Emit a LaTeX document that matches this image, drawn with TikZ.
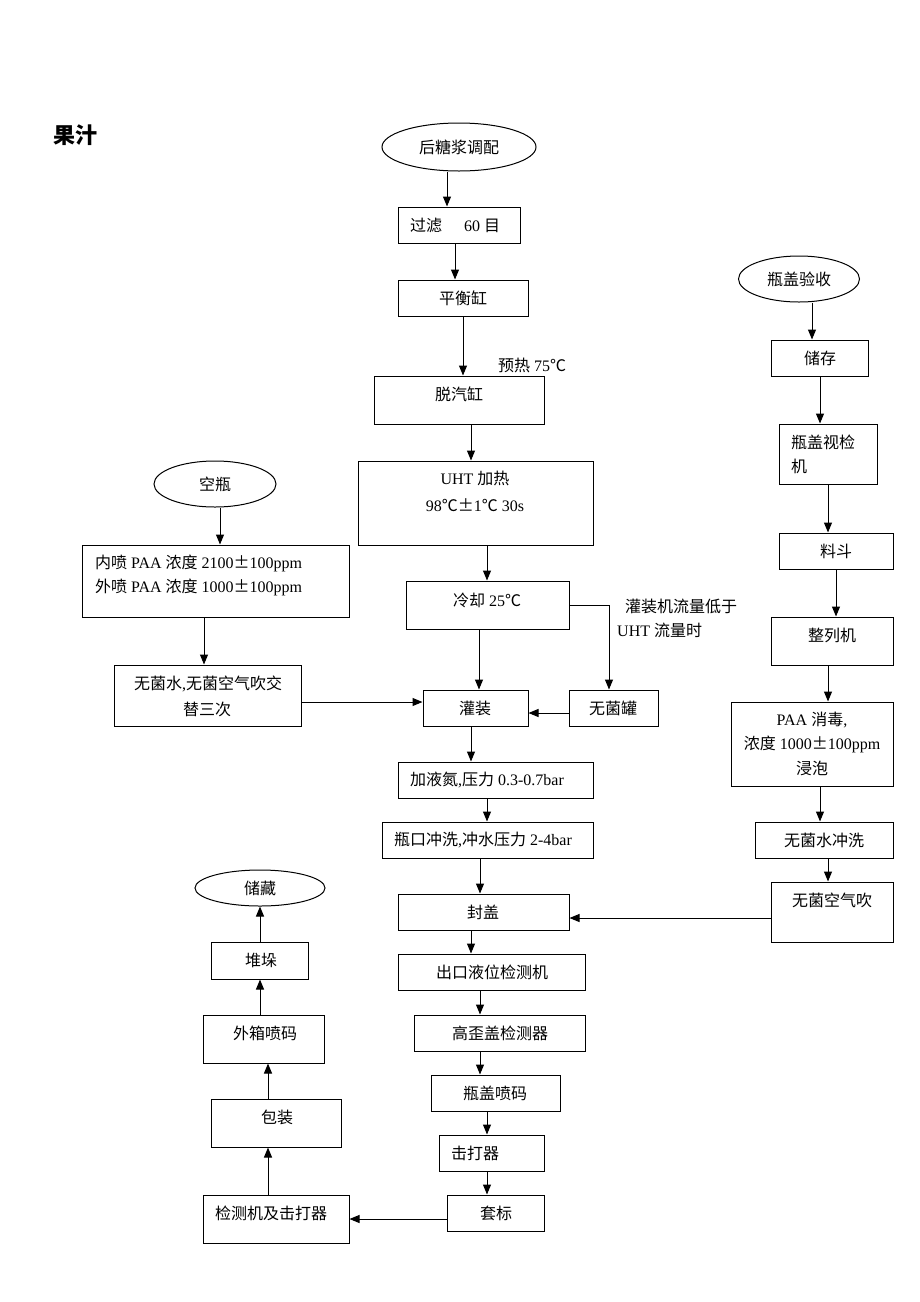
\documentclass[tikz,border=0pt]{standalone}
\usepackage{fontspec}
\setmainfont{Liberation Serif}
\newfontfamily\zh{Noto Sans CJK SC}
\usetikzlibrary{arrows.meta,shapes.geometric,fit}
\newcommand\zz[1]{{\zh #1}}
\tikzset{
  bx/.style={draw, inner sep=0pt, line width=1pt},
  ell/.style={draw, ellipse, inner sep=0pt, line width=1pt, font=\fontsize{16}{24}\selectfont\zh},
  txt/.style={inner sep=0pt, font=\fontsize{16}{24}\selectfont},
  arr/.style={line width=1pt, -{Triangle[length=10pt,width=8pt]}}
}
\begin{document}
\begin{tikzpicture}[x=1pt,y=-1pt]
\useasboundingbox (0,0) rectangle (920,1302);
% title
\node[inner sep=0pt, font=\fontsize{22}{26}\selectfont\zh\bfseries] (title) at (75,135) {果汁};

% main column
\node[ell, minimum width=154pt, minimum height=48pt] (tiaopei) at (459,147) {后糖浆调配};
\node[bx, fit={(398,207)(520,243)}] (guolv) {};
\node[txt, anchor=west] (tguolv) at (410,225) {\zz{过滤}\hspace{22pt}60\ \zz{目}};
\node[bx, fit={(398,280)(528,316)}] (pingheng) {};
\node[txt] (tpingheng) at (463,298) {\zz{平衡缸}};
\node[txt] (tyure) at (532,365) {\zz{预热} 75\zz{℃}};
\node[bx, fit={(374,376)(544,424)}] (tuoqi) {};
\node[txt] (ttuoqi) at (459,394) {\zz{脱汽缸}};
\node[bx, fit={(358,461)(593,545)}] (uht) {};
\node[txt] (tuht1) at (475,478) {UHT \zz{加热}};
\node[txt] (tuht2) at (475,505) {98\zz{℃±}1\zz{℃} 30s};
\node[bx, fit={(406,581)(569,629)}] (lengque) {};
\node[txt] (tlengque) at (487,600) {\zz{冷却} 25\zz{℃}};
\node[txt, anchor=west] (tnote1) at (625,606) {\zz{灌装机流量低于}};
\node[txt, anchor=west] (tnote2) at (617,630) {UHT \zz{流量时}};
\node[bx, fit={(423,690)(528,726)}] (guanzhuang) {};
\node[txt] (tguanzhuang) at (475,708) {\zz{灌装}};
\node[bx, fit={(569,690)(658,726)}] (wujunguan) {};
\node[txt] (twujunguan) at (613,708) {\zz{无菌罐}};
\node[bx, fit={(398,762)(593,798)}] (yedan) {};
\node[txt] (tyedan) at (487,780) {\zz{加液氮},\zz{压力} 0.3-0.7bar};
\node[bx, fit={(382,822)(593,858)}] (pingkou) {};
\node[txt] (tpingkou) at (483,840) {\zz{瓶口冲洗},\zz{冲水压力} 2-4bar};
\node[bx, fit={(398,894)(569,930)}] (fenggai) {};
\node[txt] (tfenggai) at (483,912) {\zz{封盖}};
\node[bx, fit={(398,954)(585,990)}] (yewei) {};
\node[txt] (tyewei) at (492,972) {\zz{出口液位检测机}};
\node[bx, fit={(414,1015)(585,1051)}] (waigai) {};
\node[txt] (twaigai) at (500,1033) {\zz{高歪盖检测器}};
\node[bx, fit={(431,1075)(560,1111)}] (penma) {};
\node[txt] (tpenma) at (495,1093) {\zz{瓶盖喷码}};
\node[bx, fit={(439,1135)(544,1171)}] (jida) {};
\node[txt] (tjida) at (475,1153) {\zz{击打器}};
\node[bx, fit={(447,1195)(544,1231)}] (taobiao) {};
\node[txt] (ttaobiao) at (496,1213) {\zz{套标}};

% left column
\node[ell, minimum width=122pt, minimum height=46pt] (kongping) at (215,484) {空瓶};
\node[bx, fit={(82,545)(349,617)}] (neipen) {};
\node[txt, anchor=west] (tneipen1) at (95,563) {\zz{内喷} PAA \zz{浓度} 2100\zz{±}100ppm};
\node[txt, anchor=west] (tneipen2) at (95,587) {\zz{外喷} PAA \zz{浓度} 1000\zz{±}100ppm};
\node[bx, fit={(114,665)(301,726)}] (wujunshui) {};
\node[txt] (twujunshui1) at (208,684) {\zz{无菌水},\zz{无菌空气吹交}};
\node[txt] (twujunshui2) at (207,709) {\zz{替三次}};

% bottom-left column
\node[bx, fit={(203,1195)(349,1243)}] (jiance) {};
\node[txt] (tjiance) at (271,1213) {\zz{检测机及击打器}};
\node[bx, fit={(211,1099)(341,1147)}] (baozhuang) {};
\node[txt] (tbaozhuang) at (277,1117) {\zz{包装}};
\node[bx, fit={(203,1015)(324,1063)}] (waixiang) {};
\node[txt] (twaixiang) at (265,1033) {\zz{外箱喷码}};
\node[bx, fit={(211,942)(308,979)}] (duiduo) {};
\node[txt] (tduiduo) at (261,960) {\zz{堆垛}};
\node[ell, minimum width=130pt, minimum height=36pt] (chucang) at (260,888) {储藏};

% right column
\node[ell, minimum width=121pt, minimum height=46pt] (yanshou) at (799,279) {瓶盖验收};
\node[bx, fit={(771,340)(868,376)}] (chucun) {};
\node[txt] (tchucun) at (820,358) {\zz{储存}};
\node[bx, fit={(779,424)(877,484)}] (shijian) {};
\node[txt, anchor=west] (tshijian1) at (791,442) {\zz{瓶盖视检}};
\node[txt, anchor=west] (tshijian2) at (791,466) {\zz{机}};
\node[bx, fit={(779,533)(893,569)}] (liaodou) {};
\node[txt] (tliaodou) at (836,551) {\zz{料斗}};
\node[bx, fit={(771,617)(893,665)}] (zhenglie) {};
\node[txt] (tzhenglie) at (832,635) {\zz{整列机}};
\node[bx, fit={(731,702)(893,786)}] (xiaodu) {};
\node[txt] (txiaodu1) at (812,720) {PAA \zz{消毒},};
\node[txt] (txiaodu2) at (812,744) {\zz{浓度} 1000\zz{±}100ppm};
\node[txt] (txiaodu3) at (812,768) {\zz{浸泡}};
\node[bx, fit={(755,822)(893,858)}] (chongxi) {};
\node[txt] (tchongxi) at (824,840) {\zz{无菌水冲洗}};
\node[bx, fit={(771,882)(893,942)}] (kongqi) {};
\node[txt] (tkongqi) at (832,900) {\zz{无菌空气吹}};

% connectors: main column
\draw[arr] (tiaopei.south -| 447,0) -- (guolv.north -| 447,0);
\draw[arr] (guolv.south -| 455,0) -- (pingheng.north -| 455,0);
\draw[arr] (pingheng.south -| 463,0) -- (tuoqi.north -| 463,0);
\draw[arr] (tuoqi.south -| 471,0) -- (uht.north -| 471,0);
\draw[arr] (uht.south -| 487,0) -- (lengque.north -| 487,0);
\draw[arr] (lengque.south -| 479,0) -- (guanzhuang.north -| 479,0);
\draw[arr] (lengque.east |- 0,605) -| (wujunguan.north -| 609,0);
\draw[arr] (wujunguan.west |- 0,713) -- (guanzhuang.east |- 0,713);
\draw[arr] (guanzhuang.south -| 471,0) -- (yedan.north -| 471,0);
\draw[arr] (yedan.south -| 487,0) -- (pingkou.north -| 487,0);
\draw[arr] (pingkou.south -| 480,0) -- (fenggai.north -| 480,0);
\draw[arr] (fenggai.south -| 471,0) -- (yewei.north -| 471,0);
\draw[arr] (yewei.south -| 480,0) -- (waigai.north -| 480,0);
\draw[arr] (waigai.south -| 480,0) -- (penma.north -| 480,0);
\draw[arr] (penma.south -| 487,0) -- (jida.north -| 487,0);
\draw[arr] (jida.south -| 487,0) -- (taobiao.north -| 487,0);
\draw[arr] (taobiao.west |- 0,1219) -- (jiance.east |- 0,1219);

% left column
\draw[arr] (kongping.south -| 220,0) -- (neipen.north -| 220,0);
\draw[arr] (neipen.south -| 204,0) -- (wujunshui.north -| 204,0);
\draw[arr] (wujunshui.east |- 0,702) -- (guanzhuang.west |- 0,702);

% bottom-left column
\draw[arr] (jiance.north -| 268,0) -- (baozhuang.south -| 268,0);
\draw[arr] (baozhuang.north -| 268,0) -- (waixiang.south -| 268,0);
\draw[arr] (waixiang.north -| 260,0) -- (duiduo.south -| 260,0);
\draw[arr] (duiduo.north -| 260,0) -- (chucang.south -| 260,0);

% right column
\draw[arr] (yanshou.south -| 812,0) -- (chucun.north -| 812,0);
\draw[arr] (chucun.south -| 820,0) -- (shijian.north -| 820,0);
\draw[arr] (shijian.south -| 828,0) -- (liaodou.north -| 828,0);
\draw[arr] (liaodou.south -| 836,0) -- (zhenglie.north -| 836,0);
\draw[arr] (zhenglie.south -| 828,0) -- (xiaodu.north -| 828,0);
\draw[arr] (xiaodu.south -| 820,0) -- (chongxi.north -| 820,0);
\draw[arr] (chongxi.south -| 828,0) -- (kongqi.north -| 828,0);
\draw[arr] (kongqi.west |- 0,918) -- (fenggai.east |- 0,918);
\end{tikzpicture}
\end{document}
